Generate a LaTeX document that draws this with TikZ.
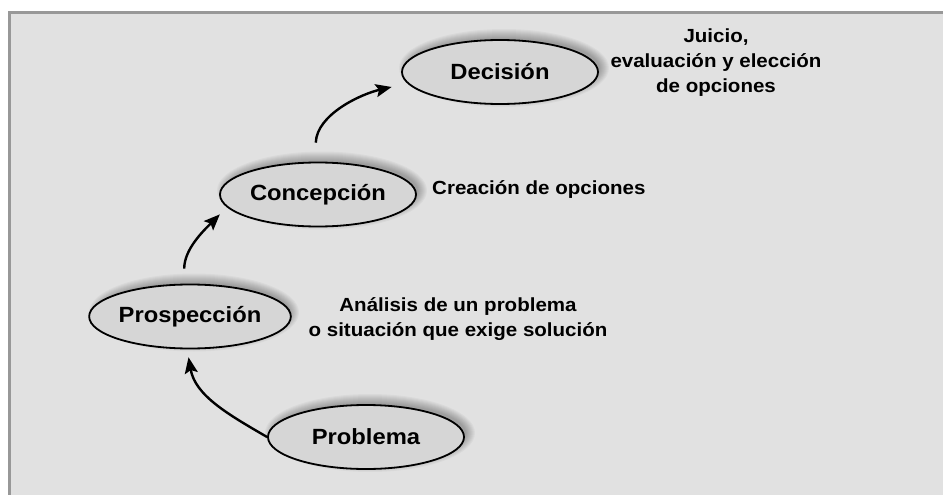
\documentclass[tikz,border=0pt]{standalone}
\usepackage{fontspec}
\setmainfont{Liberation Sans}
\newfontfamily\etiqfont[FakeStretch=1.08]{Liberation Sans}
\usepackage{tikz}
\usetikzlibrary{arrows.meta,shapes.geometric,backgrounds}
\definecolor{fondo}{HTML}{E1E1E1}
\definecolor{borde}{HTML}{989898}
\definecolor{relleno}{HTML}{D6D6D6}

\begin{document}
\begin{tikzpicture}[x=1pt,y=-1pt,
etapa/.style={ellipse, draw=black, line width=1.8pt, fill=relleno,
  minimum width=196pt, minimum height=64pt, inner sep=0pt,
  font={\etiqfont\bfseries\fontsize{22}{26}\selectfont}},
nota/.style={font={\etiqfont\bfseries\fontsize{19}{25}\selectfont}, inner sep=0pt, align=center},
flecha/.style={line width=2.4pt, -{Stealth[length=16pt,width=13pt,inset=3pt]}}]
\useasboundingbox (0,0) rectangle (943,495);

\node[etapa] (dc) at (500,72) {Decisión};
\node[etapa] (cp) at (318,194.5) {Concepción};
\node[etapa] (pp) at (190,316.5) {Prospección};
\node[etapa] (pb) at (366,437) {Problema};

\node[nota] (juicio) at (716,63) {Juicio,\\evaluación y elección\\de opciones};
\node[nota, anchor=west] (creacion) at (432,190) {Creación de opciones};
\node[nota] (analisis) at (458,319) {Análisis de un problema\\o situación que exige solución};

\draw[flecha, shorten >=8pt] (pb.west) to[out=150,in=-80] (pp.265);
\draw[flecha, shorten <=15pt, shorten >=10pt] (pp.100) to[out=90,in=225] (cp.188);
\draw[flecha, shorten <=19pt, shorten >=16pt] (cp.95) to[out=88,in=193] (dc.187);

\begin{scope}[on background layer]
\fill[white] (0,0) rectangle (943,495);
\fill[fondo] (8,11) rectangle (943,495);
\draw[borde, line width=3pt] (9.5,495) -- (9.5,12.5) -- (943,12.5);
\foreach \n in {dc,cp,pp,pb} {
\foreach \k in {0,1,...,9} {
\fill[black, opacity=0.03] ([shift={(4,-4)}]\n.center) ellipse [x radius=96+\k, y radius=30+\k];
}
}
\end{scope}
\end{tikzpicture}
\end{document}
